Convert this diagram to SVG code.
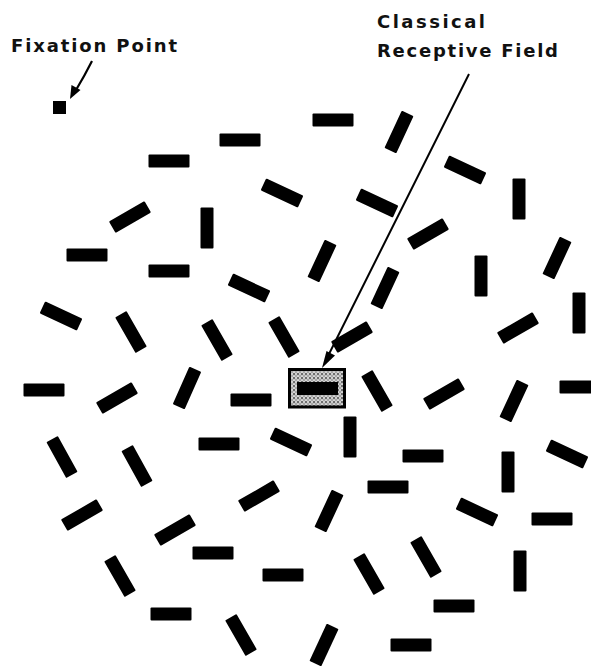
<svg xmlns="http://www.w3.org/2000/svg" xmlns:xlink="http://www.w3.org/1999/xlink" width="591" height="666" viewBox="0 0 591 666">
<style>
.lbl{font-family:"DejaVu Sans","Liberation Sans",sans-serif;font-size:18px;font-weight:bold;fill:#111;}
.bars use{fill:#000;}
.conn line,.conn path{stroke:#000;fill:none;}
.head{fill:#000;stroke:none;}
</style>
<defs>
<rect id="bar" x="-20.5" y="-6.5" width="41" height="13" rx="1"/>
<pattern id="stip" width="4" height="4" patternUnits="userSpaceOnUse">
<rect width="4" height="4" fill="#fff"/>
<circle cx="2" cy="2" r="1.5" fill="#6e6e6e"/>
<circle cx="0" cy="0" r="1" fill="#8a8a8a"/>
<circle cx="4" cy="4" r="1" fill="#8a8a8a"/>
<circle cx="4" cy="0" r="1" fill="#8a8a8a"/>
<circle cx="0" cy="4" r="1" fill="#8a8a8a"/>
</pattern>
</defs>
<rect width="591" height="666" fill="#fff"/>
<g id="labels">
<text class="lbl" x="11" y="52" textLength="166" lengthAdjust="spacing">Fixation Point</text>
<text class="lbl" x="377" y="28" textLength="108" lengthAdjust="spacing">Classical</text>
<text class="lbl" x="377" y="57" textLength="181" lengthAdjust="spacing">Receptive Field</text>
</g>
<g id="fixation-point"><rect x="53" y="101" width="13" height="13" fill="#000"/></g>
<g id="receptive-field">
<rect x="289.5" y="369.5" width="55" height="37.5" fill="url(#stip)" stroke="#000" stroke-width="3"/>
<rect x="297" y="382" width="41" height="13" fill="#000"/>
</g>
<g class="conn" id="connectors">
<path d="M92,61 Q85,75 76,90" stroke-width="2.2"/>
<polygon class="head" points="70,99 71.5,85 80.5,90"/>
<line x1="469" y1="74" x2="328" y2="356" stroke-width="2"/>
<polygon class="head" points="322,368 326.5,351 335,355.5"/>
</g>
<g class="bars" id="bars">
<use xlink:href="#bar" transform="translate(333,120)"/>
<use xlink:href="#bar" transform="translate(240,140)"/>
<use xlink:href="#bar" transform="translate(169,161)"/>
<use xlink:href="#bar" transform="translate(87,255)"/>
<use xlink:href="#bar" transform="translate(169,271)"/>
<use xlink:href="#bar" transform="translate(44,390)"/>
<use xlink:href="#bar" transform="translate(251,400)"/>
<use xlink:href="#bar" transform="translate(580,387)"/>
<use xlink:href="#bar" transform="translate(219,444)"/>
<use xlink:href="#bar" transform="translate(423,456)"/>
<use xlink:href="#bar" transform="translate(388,487)"/>
<use xlink:href="#bar" transform="translate(213,553)"/>
<use xlink:href="#bar" transform="translate(552,519)"/>
<use xlink:href="#bar" transform="translate(283,575)"/>
<use xlink:href="#bar" transform="translate(171,614)"/>
<use xlink:href="#bar" transform="translate(454,606)"/>
<use xlink:href="#bar" transform="translate(411,645)"/>
<use xlink:href="#bar" transform="translate(519,199) rotate(90)"/>
<use xlink:href="#bar" transform="translate(207,228) rotate(90)"/>
<use xlink:href="#bar" transform="translate(481,276) rotate(90)"/>
<use xlink:href="#bar" transform="translate(579,313) rotate(90)"/>
<use xlink:href="#bar" transform="translate(350,437) rotate(90)"/>
<use xlink:href="#bar" transform="translate(508,472) rotate(90)"/>
<use xlink:href="#bar" transform="translate(520,571) rotate(90)"/>
<use xlink:href="#bar" transform="translate(399,132) rotate(-65)"/>
<use xlink:href="#bar" transform="translate(322,261) rotate(-65)"/>
<use xlink:href="#bar" transform="translate(557,258) rotate(-65)"/>
<use xlink:href="#bar" transform="translate(385,288) rotate(-65)"/>
<use xlink:href="#bar" transform="translate(187,388) rotate(-66)"/>
<use xlink:href="#bar" transform="translate(514,401) rotate(-65)"/>
<use xlink:href="#bar" transform="translate(329,511) rotate(-65)"/>
<use xlink:href="#bar" transform="translate(324,645) rotate(-65)"/>
<use xlink:href="#bar" transform="translate(130,217) rotate(-30)"/>
<use xlink:href="#bar" transform="translate(428,234) rotate(-30)"/>
<use xlink:href="#bar" transform="translate(518,328) rotate(-30)"/>
<use xlink:href="#bar" transform="translate(352,337) rotate(-30)"/>
<use xlink:href="#bar" transform="translate(117,398) rotate(-30)"/>
<use xlink:href="#bar" transform="translate(444,394) rotate(-30)"/>
<use xlink:href="#bar" transform="translate(259,496) rotate(-30)"/>
<use xlink:href="#bar" transform="translate(82,515) rotate(-30)"/>
<use xlink:href="#bar" transform="translate(175,530) rotate(-30)"/>
<use xlink:href="#bar" transform="translate(465,170) rotate(25)"/>
<use xlink:href="#bar" transform="translate(282,193) rotate(25)"/>
<use xlink:href="#bar" transform="translate(377,203) rotate(25)"/>
<use xlink:href="#bar" transform="translate(249,288) rotate(25)"/>
<use xlink:href="#bar" transform="translate(61,316) rotate(25)"/>
<use xlink:href="#bar" transform="translate(291,442) rotate(25)"/>
<use xlink:href="#bar" transform="translate(567,454) rotate(25)"/>
<use xlink:href="#bar" transform="translate(477,512) rotate(25)"/>
<use xlink:href="#bar" transform="translate(131,332) rotate(60)"/>
<use xlink:href="#bar" transform="translate(217,340) rotate(60)"/>
<use xlink:href="#bar" transform="translate(284,337) rotate(60)"/>
<use xlink:href="#bar" transform="translate(377,391) rotate(60)"/>
<use xlink:href="#bar" transform="translate(62,457) rotate(61)"/>
<use xlink:href="#bar" transform="translate(137,466) rotate(61)"/>
<use xlink:href="#bar" transform="translate(426,557) rotate(60)"/>
<use xlink:href="#bar" transform="translate(369,574) rotate(60)"/>
<use xlink:href="#bar" transform="translate(120,576) rotate(60)"/>
<use xlink:href="#bar" transform="translate(241,635) rotate(60)"/>
</g>
</svg>
